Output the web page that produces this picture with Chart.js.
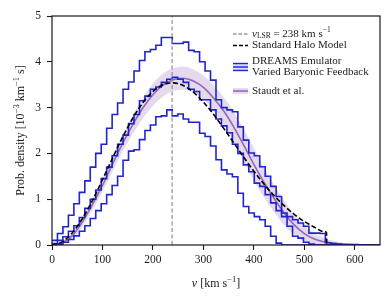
<!DOCTYPE html>
<html>
<head>
<meta charset="utf-8">
<script src="https://cdn.jsdelivr.net/npm/chart.js@4/dist/chart.umd.min.js"></script>
<style>
  html, body { margin: 0; padding: 0; background: #fff; }
  #wrap { width: 392px; height: 303px; }
</style>
</head>
<body>
<div id="wrap"><canvas id="c" width="392" height="303"></canvas></div>
<script>
// ---- Data ----
// DREAMS emulator histograms: 60 bins over 0-650 km/s
const binWidth = 650 / 60;
const dreamsUpper = [0.10, 0.25, 0.40, 0.65, 0.90, 1.15, 1.40, 1.70, 2.00, 2.20,
  2.55, 2.85, 3.10, 3.40, 3.56, 3.80, 4.03, 4.22, 4.27, 4.36,
  4.53, 4.53, 4.40, 4.40, 4.43, 4.25, 4.22, 4.00, 3.80, 3.60,
  3.17, 3.00, 2.95, 2.91, 2.58, 2.29, 2.01, 1.95, 1.71, 1.50,
  1.28, 1.06, 0.70, 0.62, 0.55, 0.48, 0.41, 0.26, 0.26, 0.25,
  0.05, 0.03, 0.02, 0.01, 0.01, 0.01, 0, 0, 0, 0];
const dreamsMedian = [0.03, 0.10, 0.18, 0.30, 0.42, 0.60, 0.80, 1.00, 1.20, 1.45,
  1.70, 1.95, 2.20, 2.40, 2.65, 2.85, 3.15, 3.25, 3.40, 3.45,
  3.55, 3.62, 3.66, 3.62, 3.55, 3.40, 3.35, 3.17, 3.17, 2.95,
  2.75, 2.60, 2.45, 2.20, 2.00, 1.75, 1.60, 1.35, 1.28, 1.10,
  0.92, 0.75, 0.62, 0.41, 0.19, 0.15, 0.06, 0.02, 0, 0,
  0, 0, 0, 0, 0, 0, 0, 0, 0, 0];
const dreamsLower = [0, 0.02, 0.06, 0.12, 0.20, 0.30, 0.42, 0.58, 0.75, 0.90,
  1.10, 1.30, 1.50, 1.85, 2.05, 2.08, 2.30, 2.50, 2.62, 2.80,
  2.82, 2.95, 2.82, 2.86, 2.75, 2.68, 2.68, 2.44, 2.37, 2.16,
  1.86, 1.64, 1.55, 1.49, 1.13, 0.84, 0.70, 0.62, 0.55, 0.41,
  0.19, 0.04, 0, 0, 0, 0, 0, 0, 0, 0,
  0, 0, 0, 0, 0, 0, 0, 0, 0, 0];

// Staudt et al. curve and its band
const vStaudt = [0, 20, 40, 60, 80, 100, 120, 140, 160, 180, 200, 220, 240, 260, 280, 300,
  320, 340, 360, 380, 400, 420, 440, 460, 480, 500, 520, 540, 560, 580, 600, 620, 640];
const staudtMid = [0, 0.05, 0.20, 0.50, 0.88, 1.30, 1.77, 2.22, 2.63, 2.99, 3.28, 3.49, 3.61, 3.64, 3.58, 3.44,
  3.21, 2.93, 2.58, 2.18, 1.76, 1.37, 1.02, 0.70, 0.44, 0.25, 0.13, 0.07, 0.03, 0.015, 0.005, 0, 0];
const staudtLo = [0, 0.02, 0.14, 0.40, 0.76, 1.16, 1.61, 2.04, 2.43, 2.77, 3.04, 3.24, 3.36, 3.39, 3.33, 3.18,
  2.93, 2.63, 2.25, 1.83, 1.41, 1.04, 0.72, 0.43, 0.22, 0.08, 0.01, 0, 0, 0, 0, 0, 0];
const staudtHi = [0.01, 0.08, 0.26, 0.60, 1.00, 1.44, 1.93, 2.40, 2.83, 3.21, 3.52, 3.74, 3.86, 3.89, 3.83, 3.70,
  3.49, 3.23, 2.91, 2.53, 2.11, 1.70, 1.32, 0.97, 0.66, 0.42, 0.25, 0.15, 0.08, 0.045, 0.02, 0.005, 0];

// Standard Halo Model (truncated at v_esc = 544 km/s)
const vShm = [0, 20, 40, 60, 80, 100, 120, 140, 160, 180, 200, 220, 240, 260, 280, 300,
  320, 340, 360, 380, 400, 420, 440, 460, 480, 500, 520, 540, 544, 544.5];
const shmVals = [0, 0.068, 0.264, 0.574, 0.971, 1.424, 1.897, 2.356, 2.768, 3.106, 3.354, 3.499, 3.539, 3.482, 3.337, 3.122,
  2.853, 2.552, 2.234, 1.917, 1.613, 1.331, 1.078, 0.858, 0.670, 0.514, 0.388, 0.288, 0.272, 0];

const vLsr = 238;
const xTicks = [0, 100, 200, 300, 400, 500, 600];
const yTicks = [0, 1, 2, 3, 4, 5];

// ---- Styles ----
const SERIF = '"Liberation Serif", "DejaVu Serif", serif';
const BLUE = '#1f24d0';
const PURPLE = '#9467bd';
const BAND = 'rgba(148,103,189,0.25)';
const INK = '#1a1a1a';

const toXY = (xs, ys) => xs.map((x, i) => ({ x, y: ys[i] }));
const stairs = vals => vals.map((y, i) => ({ x: i * binWidth, y }))
  .concat([{ x: vals.length * binWidth, y: vals[vals.length - 1] }]);

function stepSet(vals) {
  return {
    data: stairs(vals), stepped: true, borderColor: BLUE, borderWidth: 1.6,
    pointRadius: 0, fill: false, order: 2
  };
}

// ---- Rich text helper (sub/superscripts) ----
function partsWidth(ctx, parts) {
  let w = 0;
  parts.forEach(p => { ctx.font = p.font; w += ctx.measureText(p.t).width; });
  return w;
}
function drawParts(ctx, x, y, parts) {
  parts.forEach(p => {
    ctx.font = p.font;
    ctx.fillText(p.t, x, y + (p.dy || 0));
    x += ctx.measureText(p.t).width;
  });
}

const f = (size, style) => (style ? style + ' ' : '') + size + 'px ' + SERIF;

// ---- Frame, axis titles and legend ----
const decorations = {
  id: 'decorations',
  afterDraw(chart) {
    const { ctx, chartArea: a } = chart;
    ctx.save();
    // frame
    ctx.strokeStyle = INK;
    ctx.lineWidth = 1.2;
    ctx.setLineDash([]);
    ctx.strokeRect(a.left, a.top, a.right - a.left, a.bottom - a.top);

    ctx.fillStyle = INK;
    ctx.textBaseline = 'alphabetic';
    ctx.textAlign = 'left';

    // x title
    const xt = [
      { t: 'v', font: f(12, 'italic') },
      { t: ' [km s', font: f(12) },
      { t: '\u22121', font: f(8.5), dy: -5 },
      { t: ']', font: f(12) }
    ];
    const xw = partsWidth(ctx, xt);
    drawParts(ctx, (a.left + a.right) / 2 - xw / 2, 287, xt);

    // y title
    const yt = [
      { t: 'Prob. density [10', font: f(12) },
      { t: '\u22123', font: f(8.5), dy: -5 },
      { t: ' km', font: f(12) },
      { t: '\u22121', font: f(8.5), dy: -5 },
      { t: ' s]', font: f(12) }
    ];
    const yw = partsWidth(ctx, yt);
    ctx.save();
    ctx.translate(24, (a.top + a.bottom) / 2);
    ctx.rotate(-Math.PI / 2);
    drawParts(ctx, -yw / 2, 0, yt);
    ctx.restore();

    // legend
    const x0 = 233, x1 = 248, tx = 252, fs = 11;
    const line = (y, color, w, dash) => {
      ctx.strokeStyle = color; ctx.lineWidth = w; ctx.setLineDash(dash);
      ctx.beginPath(); ctx.moveTo(x0, y); ctx.lineTo(x1, y); ctx.stroke();
    };
    ctx.textBaseline = 'middle';
    ctx.fillStyle = INK;

    line(34, '#999', 1.3, [3.5, 2]);
    drawParts(ctx, tx, 34, [
      { t: 'v', font: f(fs, 'italic') },
      { t: 'LSR', font: f(7.5), dy: 2.5 },
      { t: ' = 238 km s', font: f(fs) },
      { t: '\u22121', font: f(7.5), dy: -3.5 }
    ]);

    line(45.5, '#000', 1.6, [4, 2]);
    drawParts(ctx, tx, 45.5, [{ t: 'Standard Halo Model', font: f(fs) }]);

    ctx.setLineDash([]);
    ctx.fillStyle = 'rgba(90,90,230,0.25)';
    ctx.fillRect(x0, 63.2, x1 - x0, 7.6);
    line(63.5, BLUE, 1.4, []);
    line(67, BLUE, 1.4, []);
    line(70.5, BLUE, 1.4, []);
    ctx.fillStyle = INK;
    drawParts(ctx, tx, 61.5, [{ t: 'DREAMS Emulator', font: f(fs) }]);
    drawParts(ctx, tx, 72, [{ t: 'Varied Baryonic Feedback', font: f(fs) }]);

    ctx.fillStyle = BAND;
    ctx.fillRect(x0, 88, x1 - x0, 6);
    line(91, PURPLE, 1.6, []);
    ctx.fillStyle = INK;
    drawParts(ctx, tx, 91, [{ t: 'Staudt et al.', font: f(fs) }]);

    ctx.restore();
  }
};

// ---- Chart ----
const tickFont = { family: SERIF, size: 11.5 };

new Chart(document.getElementById('c').getContext('2d'), {
  type: 'line',
  data: {
    datasets: [
      { data: [{ x: vLsr, y: 0 }, { x: vLsr, y: 5 }], borderColor: '#999', borderWidth: 1.3,
        borderDash: [4, 2.5], pointRadius: 0, fill: false, order: 0 },
      { data: toXY(vShm, shmVals), borderColor: '#000', borderWidth: 1.6, borderDash: [5, 2.5],
        cubicInterpolationMode: 'monotone', pointRadius: 0, fill: false, order: 1 },
      stepSet(dreamsUpper),
      stepSet(dreamsMedian),
      stepSet(dreamsLower),
      { data: toXY(vStaudt, staudtMid), borderColor: PURPLE, borderWidth: 1.6,
        cubicInterpolationMode: 'monotone', pointRadius: 0, fill: false, order: 3 },
      { data: toXY(vStaudt, staudtHi), borderWidth: 0, borderColor: 'rgba(0,0,0,0)',
        cubicInterpolationMode: 'monotone', pointRadius: 0, fill: false, order: 5 },
      { data: toXY(vStaudt, staudtLo), borderWidth: 0, borderColor: 'rgba(0,0,0,0)',
        backgroundColor: BAND, cubicInterpolationMode: 'monotone', pointRadius: 0, fill: '-1', order: 4 }
    ]
  },
  options: {
    responsive: false,
    animation: false,
    layout: { padding: { top: 16, right: 12, left: 0, bottom: 0 } },
    plugins: { legend: { display: false }, tooltip: { enabled: false } },
    scales: {
      x: {
        type: 'linear', min: 0, max: 650,
        afterBuildTicks: s => { s.ticks = xTicks.map(v => ({ value: v })); },
        afterFit: s => { s.height = 58; },
        grid: { drawOnChartArea: false, drawTicks: true, tickLength: 5, tickColor: INK, tickWidth: 1.1 },
        border: { display: false },
        ticks: { color: INK, font: tickFont, padding: 3, maxRotation: 0 }
      },
      y: {
        type: 'linear', min: 0, max: 5,
        afterBuildTicks: s => { s.ticks = yTicks.map(v => ({ value: v })); },
        afterFit: s => { s.width = 52; },
        grid: { drawOnChartArea: false, drawTicks: true, tickLength: 5, tickColor: INK, tickWidth: 1.1 },
        border: { display: false },
        ticks: { color: INK, font: tickFont, padding: 6 }
      }
    }
  },
  plugins: [decorations]
});
</script>
</body>
</html>
